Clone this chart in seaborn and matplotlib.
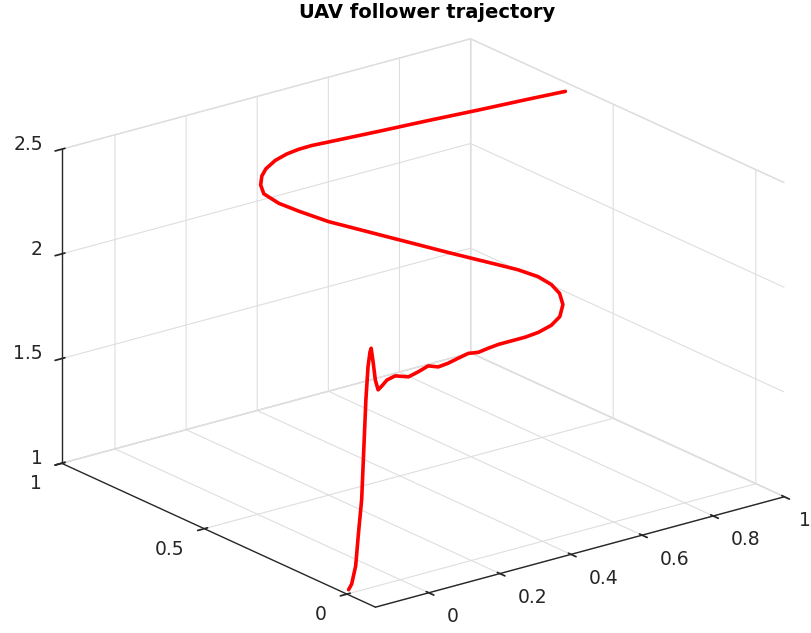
import matplotlib
matplotlib.use("Agg")
import matplotlib.pyplot as plt
import seaborn as sns
from mpl_toolkits.mplot3d import proj3d

# ---- data (follower position samples) ----
x_pos = [-0.130, -0.111, -0.074, -0.005, 0.064, 0.171, 0.278, 0.345, 0.365, 0.357,
         0.348, 0.339, 0.338, 0.360, 0.384, 0.414, 0.424, 0.434, 0.464, 0.503,
         0.517, 0.541, 0.578, 0.614, 0.628, 0.662, 0.694, 0.723, 0.761, 0.803,
         0.845, 0.894, 0.946, 0.967, 0.968, 0.954, 0.915, 0.871, 0.826, 0.759,
         0.693, 0.627, 0.561, 0.494, 0.438, 0.403, 0.388, 0.404, 0.409, 0.422,
         0.449, 0.480, 0.509, 0.538, 0.568, 0.677, 0.754, 0.831, 0.908, 0.965]
y_pos = [0.019, 0.032, 0.064, 0.140, 0.215, 0.341, 0.467, 0.543, 0.561, 0.547,
         0.529, 0.510, 0.499, 0.513, 0.525, 0.534, 0.523, 0.512, 0.514, 0.529,
         0.511, 0.506, 0.517, 0.527, 0.509, 0.516, 0.521, 0.511, 0.511, 0.517,
         0.524, 0.555, 0.609, 0.647, 0.677, 0.706, 0.728, 0.742, 0.757, 0.777,
         0.800, 0.822, 0.845, 0.867, 0.901, 0.928, 0.962, 0.993, 0.995, 0.997,
         0.998, 0.996, 0.990, 0.980, 0.970, 0.920, 0.842, 0.762, 0.684, 0.624]
z_pos = [1.00, 1.01, 1.06, 1.14, 1.22, 1.33, 1.44, 1.52, 1.57, 1.60,
         1.55, 1.48, 1.44, 1.44, 1.45, 1.45, 1.45, 1.45, 1.46, 1.46,
         1.46, 1.47, 1.47, 1.47, 1.48, 1.48, 1.48, 1.49, 1.49, 1.49,
         1.50, 1.50, 1.50, 1.520, 1.543, 1.569, 1.606, 1.641, 1.676, 1.729,
         1.782, 1.835, 1.888, 1.942, 1.996, 2.033, 2.064, 2.080, 2.119, 2.146,
         2.173, 2.191, 2.204, 2.215, 2.221, 2.256, 2.321, 2.386, 2.451, 2.500]

x_ticks = [0, 0.2, 0.4, 0.6, 0.8, 1]
x_tick_labels = ["0", "0.2", "0.4", "0.6", "0.8", "1"]
y_ticks = [0, 0.5, 1]
y_tick_labels = ["0", "0.5", "1"]
z_ticks = [1, 1.5, 2, 2.5]
z_tick_labels = ["1", "1.5", "2", "2.5"]
x_limits = (-0.15, 1.0)
y_limits = (-0.1, 1.0)
z_limits = (1.0, 2.5)
title_text = "UAV follower trajectory"

# ---- style ----
sns.set_theme(style="white")
plt.rcParams["font.family"] = ["DejaVu Sans"]
plt.rcParams["grid.color"] = "#dedede"
plt.rcParams["grid.linewidth"] = 0.8
plt.rcParams["xtick.color"] = "#262626"
plt.rcParams["ytick.color"] = "#262626"

W, H = 812, 633
fig = plt.figure(figsize=(W / 100, H / 100), dpi=100)
fig.patch.set_facecolor("white")

side = 600.0
cx, cy = 423.0, 310.0
ax = fig.add_axes([(cx - 0.5135 * side) / W, (cy - 0.5135 * side) / H,
                   side / W, side / H], projection="3d")
ax.set_proj_type("ortho")
ax.view_init(elev=20.6, azim=-127.5)
ax.set_box_aspect((1, 1, 0.651), zoom=779.0 / side)

ax.plot(x_pos, y_pos, z_pos, color="red", lw=2.6, solid_capstyle="round",
        solid_joinstyle="round")

try:
    ax.set_xlim(*x_limits, view_margin=0)
    ax.set_ylim(*y_limits, view_margin=0)
    ax.set_zlim(*z_limits, view_margin=0)
except TypeError:
    ax.set_xlim(*x_limits)
    ax.set_ylim(*y_limits)
    ax.set_zlim(*z_limits)

ax.set_xticks(x_ticks)
ax.set_yticks(y_ticks)
ax.set_zticks(z_ticks)
ax.grid(True)

for a in (ax.xaxis, ax.yaxis, ax.zaxis):
    a.set_tick_params(labelleft=False, labelbottom=False,
                      labelright=False, labeltop=False)
    a.set_pane_color((1, 1, 1, 1))
    a.pane.set_edgecolor("#dedede")
    a.line.set_color("#262626")
    a.line.set_linewidth(1.0)
    a.label.set_visible(False)
    a.get_offset_text().set_visible(False)

# make the projection final, then place MATLAB-like tick labels
fig.canvas.draw()
M = ax.get_proj()
renderer = fig.canvas.get_renderer()


def put_label(xd, yd, zd, s, ha):
    px, py, _ = proj3d.proj_transform(xd, yd, zd, M)
    fx, fy = ax.transData.transform((px, py))
    txt = fig.text(fx / W, fy / H, s, ha=ha, va="center",
                   fontsize=13.5, color="#262626")
    bb = txt.get_window_extent(renderer)
    if bb.x1 > W - 1:  # keep the label fully inside the canvas
        txt.set_x((fx - (bb.x1 - (W - 1))) / W)
    return txt


for t, s in zip(x_ticks, x_tick_labels):
    put_label(t, y_limits[0] - 0.063, z_limits[0] - 0.075, s, "left")
for t, s in zip(y_ticks, y_tick_labels):
    put_label(x_limits[0] - 0.056, t, z_limits[0] - 0.072, s, "right")
for t, s in zip(z_ticks, z_tick_labels):
    put_label(x_limits[0] - 0.015, y_limits[1] + 0.047, t, s, "right")

fig.text(427.5 / W, 1 - 13 / H, title_text, ha="center", va="center",
         fontsize=14, fontweight="bold", color="black")

fig.savefig("out.png", dpi=100)
